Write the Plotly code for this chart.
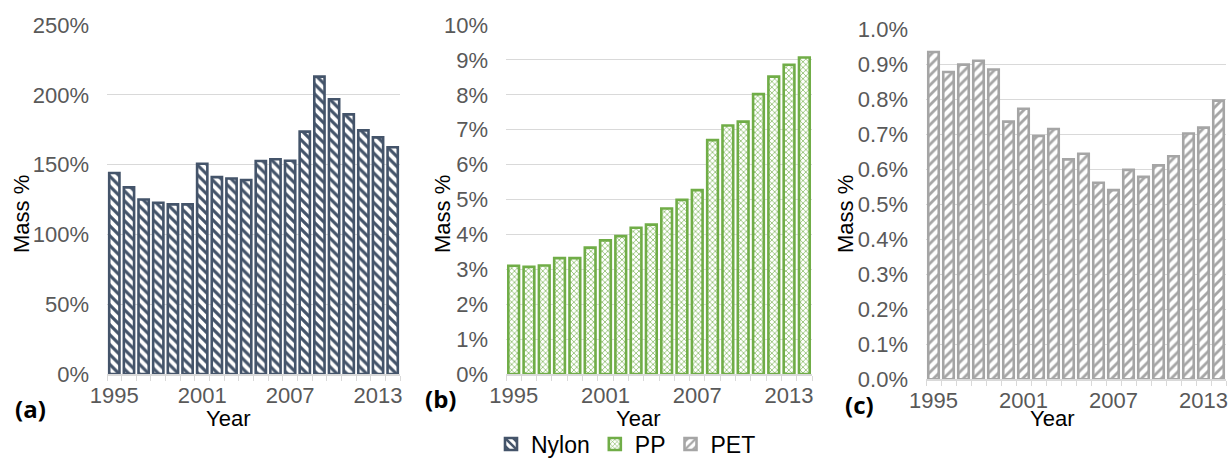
import plotly.graph_objects as go

# Years shared by all three panels
years = list(range(1995, 2015))

# Mass share (%) per year for each polymer
nylon = [144.0, 133.7, 125.0, 122.7, 121.5, 121.5, 150.6, 141.0, 140.0, 139.0,
         152.6, 153.8, 152.8, 173.6, 213.0, 196.8, 186.0, 174.5, 169.5, 162.4]
pp = [3.10, 3.07, 3.11, 3.32, 3.32, 3.62, 3.83, 3.95, 4.19, 4.28,
      4.74, 4.99, 5.27, 6.70, 7.12, 7.23, 8.02, 8.52, 8.86, 9.07]
pet = [0.936, 0.879, 0.900, 0.911, 0.886, 0.737, 0.774, 0.696, 0.716, 0.629,
       0.645, 0.562, 0.541, 0.599, 0.579, 0.612, 0.638, 0.703, 0.720, 0.797]

year_ticks = [1995, 2001, 2007, 2013]
panel_labels = ["(a)", "(b)", "(c)"]

W, H = 1232, 459
TICK_GREY = "#595959"
GRID = "#D9D9D9"
FONT = "Liberation Sans"

# pixel boxes of the three plot areas: (left, right, top, bottom)
boxes = [(107, 400, 25, 374), (506, 812, 25, 374), (926, 1226, 29.7, 379.3)]

series = [
    dict(name="Nylon", y=nylon, color="#44546A", shape="\\", size=7, sol=0.45,
         yrange=[0, 250], dtick=50, fmt=None),
    dict(name="PP", y=pp, color="#70AD47", shape="x", size=4, sol=0.3,
         yrange=[0, 10], dtick=1, fmt=None),
    dict(name="PET", y=pet, color="#A5A5A5", shape="/", size=7, sol=0.4,
         yrange=[0, 1.0], dtick=0.1, fmt=".1f"),
]

fig = go.Figure()
layout = {}
for i, (s, box) in enumerate(zip(series, boxes)):
    n = "" if i == 0 else str(i + 1)
    l, r, t, b = box
    fig.add_trace(go.Bar(
        x=years, y=s["y"], name=s["name"],
        xaxis="x" + n, yaxis="y" + n,
        marker=dict(
            color="white",
            line=dict(color=s["color"], width=2.6),
            pattern=dict(shape=s["shape"], fgcolor=s["color"], bgcolor="white",
                         fillmode="replace", size=s["size"], solidity=s["sol"]),
        ),
    ))
    layout["xaxis" + n] = dict(
        domain=[l / W, r / W], anchor="y" + n, automargin=False,
        range=[1994.5, 2014.5], tickvals=year_ticks, ticks="",
        ticklabelstandoff=1,
        tickfont=dict(family=FONT, size=22, color=TICK_GREY),
        showline=True, linecolor=GRID, linewidth=1.5, showgrid=False,
        zeroline=False,
        minor=dict(ticks="outside", ticklen=5, tickcolor=GRID, tickwidth=1,
                   tick0=1994.5, dtick=1, showgrid=False),
    )
    ya = dict(
        domain=[1 - b / H, 1 - t / H], anchor="x" + n, automargin=False,
        range=s["yrange"], dtick=s["dtick"], tick0=0, ticksuffix="%",
        tickfont=dict(family=FONT, size=22, color=TICK_GREY),
        ticklabelstandoff=17,
        showgrid=True, gridcolor=GRID, gridwidth=1, zeroline=False,
        showline=False,
    )
    if s["fmt"]:
        ya["tickformat"] = s["fmt"]
    layout["yaxis" + n] = ya

# Axis titles and panel labels
annotations = []
mass_x = [21, 442, 845]
year_x = [228, 638, 1052]
label_pos = [(30, 408), (440, 398), (859, 404)]
for i in range(3):
    annotations.append(dict(
        text="Mass %", textangle=-90, x=mass_x[i] / W, y=1 - 214 / H,
        xref="paper", yref="paper", showarrow=False,
        font=dict(family=FONT, size=22, color="black"),
        xanchor="center", yanchor="middle"))
    annotations.append(dict(
        text="Year", x=year_x[i] / W, y=1 - 418 / H,
        xref="paper", yref="paper", showarrow=False,
        font=dict(family=FONT, size=22, color="black"),
        xanchor="center", yanchor="middle"))
    lx, ly = label_pos[i]
    annotations.append(dict(
        text="<b>" + panel_labels[i] + "</b>", x=lx / W, y=1 - ly / H,
        xref="paper", yref="paper", showarrow=False,
        font=dict(family="Open Sans", size=24, color="black"),
        xanchor="center", yanchor="middle"))

fig.update_layout(
    width=W, height=H,
    margin=dict(l=0, r=0, t=0, b=0, autoexpand=False),
    paper_bgcolor="white", plot_bgcolor="white",
    bargap=0.3,
    showlegend=True,
    legend=dict(orientation="h", x=0.5 + 10 / W, xanchor="center",
                y=1 - 444 / H, yanchor="middle",
                font=dict(family=FONT, size=23, color="black"),
                itemwidth=30, bgcolor="rgba(0,0,0,0)"),
    annotations=annotations,
    **layout,
)

fig.write_html("out.html")
